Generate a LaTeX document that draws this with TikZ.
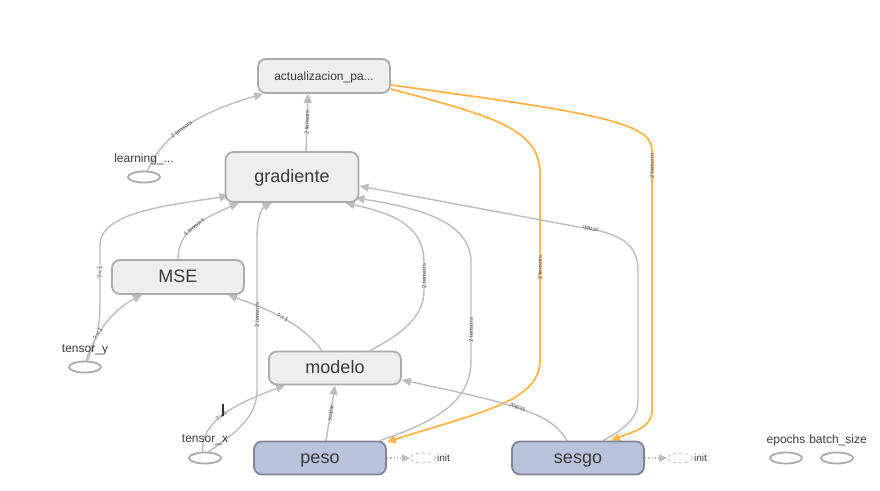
\documentclass[tikz,border=0pt]{standalone}
\usepackage{fontspec}
\setmainfont{Liberation Sans}
\usetikzlibrary{arrows.meta,shapes.geometric}
\definecolor{nfill}{HTML}{EEEEEE}
\definecolor{nborder}{HTML}{ABABAB}
\definecolor{bfill}{HTML}{B9C3DB}
\definecolor{bborder}{HTML}{7F8797}
\definecolor{edgec}{HTML}{BDBDBD}
\definecolor{orng}{HTML}{FFB64D}
\definecolor{ltxt}{HTML}{555555}
\definecolor{ntxt}{HTML}{3A3A3A}
\pgfdeclarelayer{bg}
\pgfsetlayers{bg,main}
\begin{document}
\begin{tikzpicture}[x=1pt,y=-1pt,
  opnode/.style={draw=nborder, fill=nfill, line width=1.8pt, rounded corners=8pt,
    minimum width=132pt, minimum height=34pt, inner sep=0pt, text=ntxt,
    font=\fontsize{18}{20}\selectfont, text height=10pt, text depth=0pt},
  varnode/.style={opnode, draw=bborder, fill=bfill},
  phold/.style={draw=nborder, fill=white, ellipse, line width=1.8pt,
    minimum width=32pt, minimum height=11pt, inner sep=0pt},
  initnode/.style={draw=nborder, dashed, ellipse, line width=0.6pt,
    minimum width=25pt, minimum height=10pt, inner sep=0pt},
  nlabel/.style={text=ntxt, font=\fontsize{12}{14}\selectfont, inner sep=0pt},
  ilabel/.style={text=ntxt, font=\fontsize{10}{12}\selectfont, inner sep=0pt, anchor=west},
  flow/.style={draw=edgec, line width=1.4pt, -{Triangle[length=9pt,width=8pt]}},
  oflow/.style={draw=orng, line width=1.8pt, -{Triangle[length=9pt,width=8pt]}},
  dflow/.style={draw=edgec, line width=1.3pt, dotted, -{Triangle[length=8pt,width=7pt]}},
  elabel/.style={text=ltxt, font=\fontsize{6}{6}\selectfont, inner sep=0pt},
]
\useasboundingbox (0,0) rectangle (880,490);

% nodes
\node[opnode, font=\fontsize{12}{14}\selectfont, text height=8pt] (act) at (324,76) {actualizacion\_pa...};
\node[opnode, minimum width=133pt, minimum height=50pt] (grad) at (292,177) {gradiente};
\node[opnode] (mse) at (178,277) {MSE};
\node[opnode, minimum height=33pt] (modelo) at (335,368) {modelo};
\node[varnode, minimum height=33pt] (peso) at (320,458) {peso};
\node[varnode, minimum height=33pt] (sesgo) at (578,458) {sesgo};

\node[phold] (lr) at (144,177) {};
\node[nlabel] (lrl) at (144,159) {learning\_...};
\node[phold] (ty) at (85,367) {};
\node[nlabel] (tyl) at (85,350) {tensor\_y};
\node[phold] (tx) at (205,458) {};
\node[nlabel] (txl) at (205,440) {tensor\_x};
\node[phold] (ep) at (786,458) {};
\node[nlabel] (epl) at (786,440) {epochs};
\node[phold] (bs) at (837,458) {};
\node[nlabel] (bsl) at (838,440) {batch\_size};

\node[initnode] (init1) at (423,458) {};
\node[ilabel] (init1l) at (437,458) {init};
\node[initnode] (init2) at (680,458) {};
\node[ilabel] (init2l) at (694,458) {init};

\begin{pgfonlayer}{bg}
% learning -> act
\draw[flow] (lr.60) .. controls (162,135) and (200,112) .. node[elabel, sloped, pos=0.45]{2 tensors} ([xshift=6pt]act.south west);
% grad -> act
\draw[flow] ([xshift=14pt]grad.north) -- node[elabel, sloped]{2 tensors} ([xshift=-16pt]act.south);
% act -> peso (orange)
\draw[oflow] ([yshift=-13pt]act.east) .. controls (500,118) and (540,130) .. (540,175)
  -- node[elabel, rotate=90]{2 tensors} (540,360)
  .. controls (540,402) and (480,412) .. ([yshift=16pt]peso.east);
% act -> sesgo (orange)
\draw[oflow] ([yshift=-9pt]act.east) .. controls (590,112) and (652,122) .. (652,150)
  -- node[elabel, rotate=90]{2 tensors} (652,182) -- (652,410)
  .. controls (652,428) and (632,432) .. ([xshift=33pt]sesgo.north);
% tensor_y -> grad
\draw[flow] (ty.70) .. controls (98,335) and (100,325) .. (100,300)
  -- node[elabel, rotate=90]{?$\times$1} (100,245)
  .. controls (100,212) and (170,205) .. ([xshift=4pt,yshift=7pt]grad.south west);
% tensor_y -> MSE
\draw[flow] (ty.80) .. controls (94,335) and (112,310) .. node[elabel, sloped, pos=0.35]{?$\times$1} ([xshift=-36pt]mse.south);
% MSE -> grad
\draw[flow] (mse.north) .. controls (178,232) and (200,220) .. node[elabel, sloped, pos=0.5]{4 tensors} ([xshift=14pt]grad.south west);
% modelo -> MSE
\draw[flow] ([xshift=-13pt]modelo.north) .. controls (300,322) and (270,310) .. node[elabel, sloped, pos=0.5]{?$\times$1} ([xshift=-17pt]mse.south east);
% tensor_x -> grad
\draw[flow] (tx.60) .. controls (240,430) and (257,415) .. (257,390)
  -- node[elabel, rotate=90]{2 tensors} (257,240)
  .. controls (257,215) and (262,208) .. ([xshift=-20pt]grad.south);
% tensor_x -> modelo
\draw[flow] (tx.110) .. controls (200,420) and (240,402) .. node[elabel, sloped, pos=0.45]{?$\times$1} ([xshift=-50pt]modelo.south);
% modelo -> grad
\draw[flow] ([xshift=35pt]modelo.north) .. controls (410,330) and (424,312) .. (424,290)
  -- node[elabel, rotate=90]{2 tensors} (424,262)
  .. controls (424,222) and (385,212) .. ([xshift=-14pt]grad.south east);
% peso -> grad
\draw[flow] ([xshift=60pt]peso.north) .. controls (440,420) and (471,400) .. (471,360)
  -- node[elabel, rotate=90]{2 tensors} (471,300) -- (471,262)
  .. controls (471,222) and (420,208) .. ([xshift=-4pt,yshift=5pt]grad.south east);
% sesgo -> grad
\draw[flow] ([xshift=25pt]sesgo.north) .. controls (622,430) and (638,420) .. (638,400)
  -- (638,270) .. controls (638,245) and (620,236) .. (600,231)
  -- node[elabel, sloped, allow upside down, pos=0.04]{scalar} ([yshift=-9pt]grad.east);
% sesgo -> modelo
\draw[flow] ([xshift=-11pt]sesgo.north) .. controls (552,415) and (525,406) .. node[elabel, sloped, allow upside down, pos=0.55]{scalar} ([yshift=-12pt]modelo.east);
% peso -> modelo
\draw[flow] ([xshift=6pt]peso.north) -- node[elabel, sloped]{scalar} (modelo.south);
% init links
\draw[dflow] (peso.east) -- (init1.west);
\draw[dflow] (sesgo.east) -- (init2.west);
\end{pgfonlayer}
% cursor mark
\draw[black!80, line width=2pt] (222.5,404) -- (222.5,416);
\end{tikzpicture}
\end{document}
